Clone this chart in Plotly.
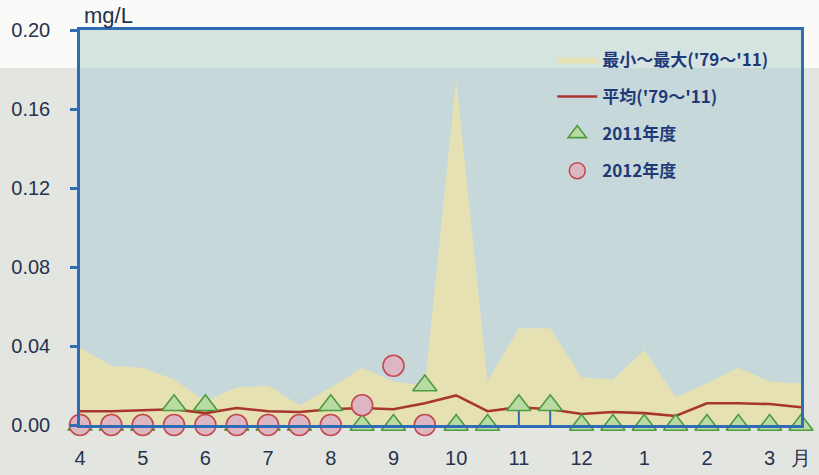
import plotly.graph_objects as go

# Half-monthly sampling positions, April through March
x_idx = list(range(24))
tick_vals = [0, 2, 4, 6, 8, 10, 12, 14, 16, 18, 20, 22, 23]
tick_text = ["4", "5", "6", "7", "8", "9", "10", "11", "12", "1", "2", "3", "月"]

# Historical range ('79-'11), mg/L
band_min = [0.0] * 24
band_max = [0.039, 0.030, 0.029, 0.023, 0.012, 0.019, 0.020, 0.010, 0.019, 0.029,
            0.022, 0.020, 0.175, 0.022, 0.049, 0.049, 0.024, 0.023, 0.038, 0.014,
            0.021, 0.029, 0.022, 0.021]
# Historical mean ('79-'11)
mean_vals = [0.007, 0.007, 0.0075, 0.008, 0.006, 0.0086, 0.007, 0.0066, 0.008, 0.0086,
             0.008, 0.011, 0.015, 0.007, 0.009, 0.008, 0.0056, 0.0066, 0.006, 0.0046,
             0.011, 0.011, 0.0106, 0.009]
# Fiscal year 2011
fy2011 = [0.0, 0.0, 0.0, 0.010, 0.010, 0.0, 0.0, 0.0, 0.010, 0.0,
          0.0, 0.020, 0.0, 0.0, 0.010, 0.010, 0.0, 0.0, 0.0, 0.0,
          0.0, 0.0, 0.0, 0.0]
fy2011_stem = [None] * 14 + [0.010, 0.010] + [None] * 8
# Fiscal year 2012 (through September)
fy2012_x = list(range(12))
fy2012 = [0.0, 0.0, 0.0, 0.0, 0.0, 0.0, 0.0, 0.0, 0.0, 0.010, 0.030, 0.0]

AXIS_BLUE = "#2f6cb3"
TEXT = "#27324e"
LEG_TEXT = "#1f3a78"

fig = go.Figure()

fig.add_trace(go.Scatter(x=x_idx, y=band_min, mode="lines", line=dict(width=0),
                         showlegend=False, hoverinfo="skip"))
fig.add_trace(go.Scatter(x=x_idx, y=band_max, mode="lines", line=dict(width=0),
                         fill="tonexty", fillcolor="#e6e1b3",
                         name="最小～最大('79～'11)", legendgroup="a"))
fig.add_trace(go.Scatter(x=x_idx, y=mean_vals, mode="lines",
                         line=dict(color="#a8362e", width=2.6),
                         name="平均('79～'11)", legendgroup="b"))
fig.add_trace(go.Scatter(x=x_idx, y=fy2011, mode="markers",
                         marker=dict(symbol="triangle-up", size=21, color="#b7dba3",
                                     line=dict(color="#4f9a3c", width=1.6)),
                         error_y=dict(type="data", symmetric=False,
                                      array=[0] * 24, arrayminus=fy2011_stem,
                                      color=AXIS_BLUE, thickness=2, width=0),
                         cliponaxis=False, name="2011年度", legendgroup="c"))
fig.add_trace(go.Scatter(x=fy2012_x, y=fy2012, mode="markers",
                         marker=dict(symbol="circle", size=21, color="#dcb6c2",
                                     line=dict(color="#c44a52", width=1.6)),
                         cliponaxis=False, name="2012年度", legendgroup="d"))

shapes = [
    # light strip along the top of the page
    dict(type="rect", xref="paper", yref="paper", x0=-0.2, x1=1.2, y0=0.904, y1=1.2,
         fillcolor="#fafaf8", line=dict(width=0), layer="below"),
    # plot area background
    dict(type="rect", xref="paper", yref="paper", x0=0, x1=1, y0=0, y1=1,
         fillcolor="#c6d8d9", line=dict(width=0), layer="below"),
    dict(type="rect", xref="paper", yref="paper", x0=0, x1=1, y0=0.904, y1=1,
         fillcolor="#d5e3e1", line=dict(width=0), layer="below"),
]

fig.update_layout(
    width=819, height=475,
    margin=dict(l=80, r=18, t=30, b=50),
    paper_bgcolor="#e3e6e0",
    plot_bgcolor="rgba(0,0,0,0)",
    shapes=shapes,
    font=dict(family="Liberation Sans, Arial, sans-serif", color=TEXT),
    showlegend=True,
    legend=dict(x=0.655, y=0.97, xanchor="left", yanchor="top",
                bgcolor="rgba(0,0,0,0)", traceorder="grouped", tracegroupgap=12,
                font=dict(family="Noto Sans CJK JP", size=17, color=LEG_TEXT,
                          weight="bold"),
                itemwidth=40),
    annotations=[dict(text="mg/L", xref="paper", yref="paper", x=0.003, y=1.0,
                      xanchor="left", yanchor="bottom", showarrow=False,
                      font=dict(size=22, color=TEXT))],
)

fig.update_xaxes(range=[0, 23], tickvals=tick_vals, ticktext=tick_text,
                 showgrid=False, zeroline=False, showline=True, linecolor=AXIS_BLUE,
                 linewidth=2.5, mirror=True, ticks="", ticklabelstandoff=13,
                 automargin=False, tickfont=dict(size=20, color=TEXT))
fig.update_yaxes(range=[0, 0.20], dtick=0.04, tickformat=".2f",
                 showgrid=False, zeroline=False, showline=True, linecolor=AXIS_BLUE,
                 linewidth=2.5, mirror=True, ticks="outside", ticklen=7,
                 tickwidth=2.5, tickcolor=AXIS_BLUE, ticklabelstandoff=16,
                 automargin=False, tickfont=dict(size=20, color=TEXT))

fig.write_html("out.html")
